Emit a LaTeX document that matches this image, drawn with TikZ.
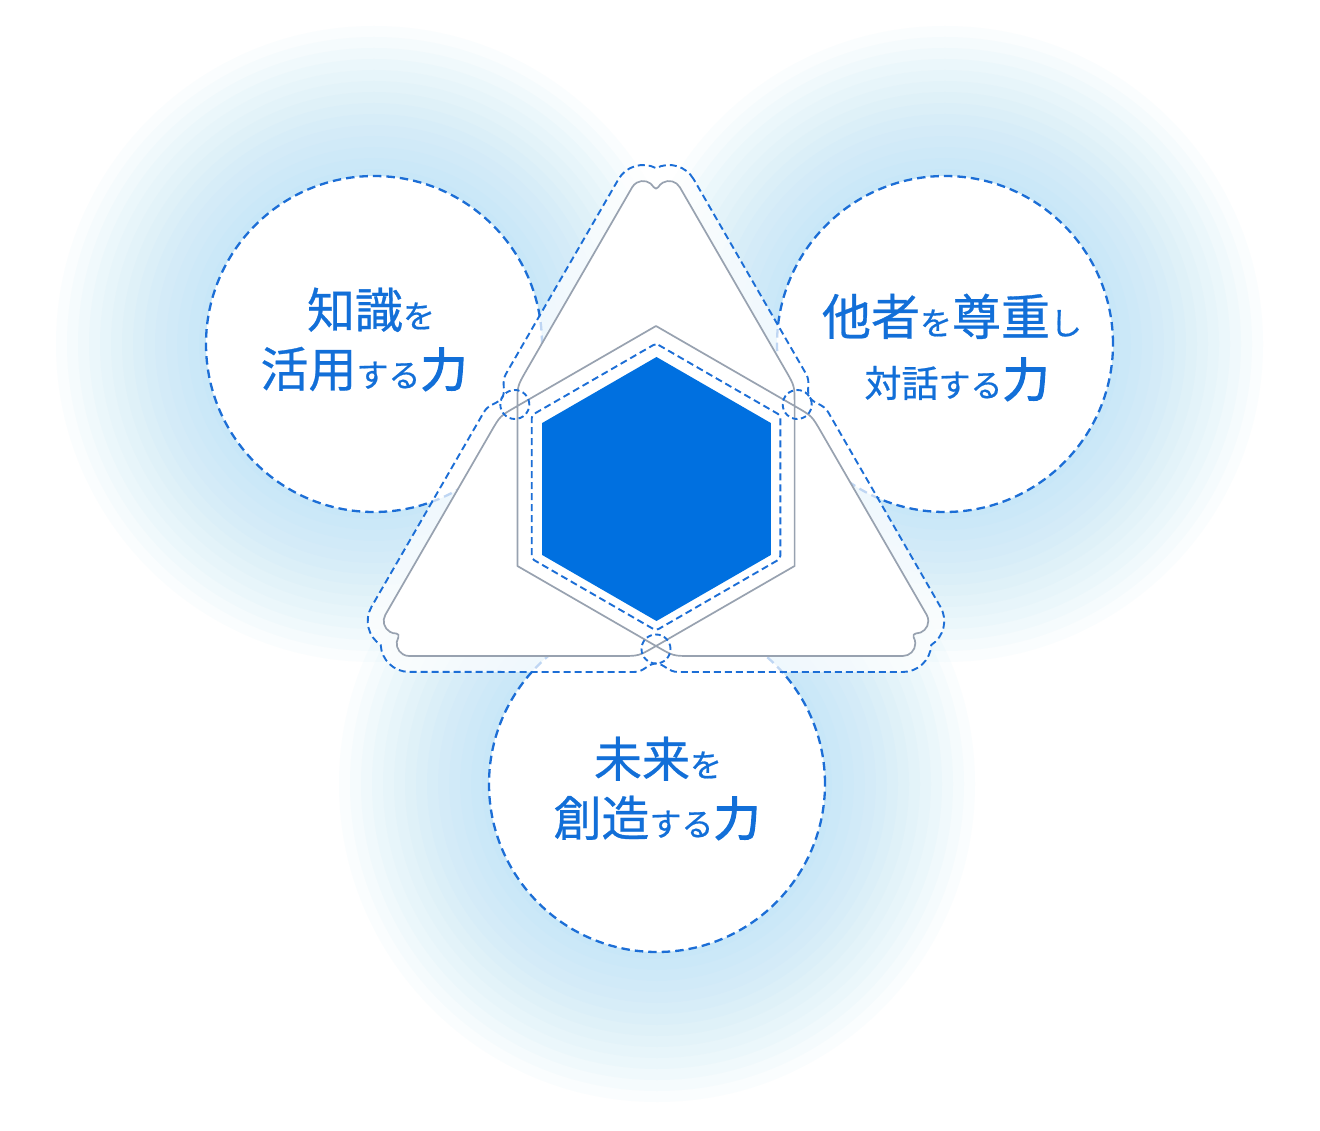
\documentclass[tikz,border=0pt]{standalone}
\usepackage{fontspec}
\newfontfamily\jpm{Noto Sans CJK JP}[FakeBold=0.6]
\newfontfamily\jpb{Noto Sans CJK JP}[FakeBold=2.4]
\definecolor{blueline}{HTML}{1C6ED6}
\definecolor{hexblue}{HTML}{0070E0}
\definecolor{txtblue}{HTML}{126FD8}
\definecolor{grayline}{HTML}{98A2B0}
\definecolor{glowc}{RGB}{160,216,248}
\newcommand\bigk[1]{{\fontsize{48}{48}\selectfont #1}}
\newcommand\bigkk[1]{{\fontsize{49}{49}\selectfont #1}}
\newcommand\midk[1]{{\fontsize{37}{37}\selectfont #1}}
\newcommand\smallk[1]{{\fontsize{32}{32}\selectfont #1}}
\newcommand\boldk[1]{{\jpb\fontsize{47}{47}\selectfont #1}}
\newcommand\graypath{(679.83,187.25) arc[start angle=330,end angle=210,radius=12.5] -- (656,188.6) -- (653.83,187.25) arc[start angle=330,end angle=210,radius=12.5] -- (526.4,370.41) .. controls (517.4,386) .. (517.4,404) -- (517.4,566) -- (657.71,647) .. controls (673.3,656) .. (691.3,656) -- (902.8,656) arc[start angle=90,end angle=-30,radius=12.5] -- (913.6,634.7) -- (915.8,633.5) arc[start angle=90,end angle=-30,radius=12.5] -- (820.9,431.59) .. controls (811.9,416) .. (796.31,407) -- (656,326) -- (515.69,407) .. controls (500.1,416) .. (491.1,431.59) -- (385.37,614.75) arc[start angle=210,end angle=90,radius=12.5] -- (398.4,634.7) -- (398.37,637.25) arc[start angle=210,end angle=90,radius=12.5] -- (620.7,656) .. controls (638.7,656) .. (654.29,647) -- (794.6,566) -- (794.6,404) .. controls (794.6,386) .. (785.6,370.41) -- cycle}
\newcommand\outerpath{(693.68,179.25) arc[start angle=330,end angle=243,radius=28.5] arc[start angle=297,end angle=210,radius=28.5] -- (505.9,373.95) .. controls (500.9,382.6) and (506.3,390.3) .. (502.3,397.25) .. controls (498.3,404.2) and (488.9,403.4) .. (483.9,412.05) -- (371.52,606.75) arc[start angle=210,end angle=123,radius=28.5] arc[start angle=177,end angle=90,radius=28.5] -- (634,672) .. controls (644,672) and (648,663.5) .. (656,663.5) .. controls (664,663.5) and (668,672) .. (678,672) -- (902.8,672) arc[start angle=90,end angle=3,radius=28.5] arc[start angle=57,end angle=-30,radius=28.5] -- (828.1,412.05) .. controls (823.1,403.4) and (813.7,404.2) .. (809.7,397.25) .. controls (805.7,390.3) and (811.1,382.6) .. (806.1,373.95) -- cycle}
\begin{document}
\begin{tikzpicture}[x=1pt,y=-1pt,
  bigc/.style={circle, draw=blueline, line width=2.3pt, dash pattern=on 8.5pt off 5pt, fill=white, minimum size=336pt, inner sep=0pt},
  junc/.style={circle, draw=blueline, line width=1.9pt, dash pattern=on 5.5pt off 3.5pt, minimum size=29pt, inner sep=0pt},
  dashline/.style={draw=blueline, line width=1.9pt, dash pattern=on 7pt off 4pt},
  grayl/.style={draw=grayline, line width=1.7pt, line join=round},
  txt/.style={anchor=base, text=txtblue, inner sep=0pt, font=\jpm}]
\fill[white] (0,0) rectangle (1320,1131);
\useasboundingbox (0,0) rectangle (1320,1131);
% glow
\foreach \cx/\cy in {374/344, 945/344, 657/784}{
  \foreach \k in {1,...,14}{
    \fill[glowc, fill opacity=0.05] (\cx,\cy) circle[radius=164+11*\k];
  }
}
% big circles
\node[bigc] (cL) at (374,344) {};
\node[bigc] (cR) at (945,344) {};
\node[bigc] (cB) at (657,784) {};
% triangle band and body
\fill[white, fill opacity=0.72] \outerpath;
\fill[white] \graypath;
\path[dashline] \outerpath;
\path[grayl] \graypath;
% inner dashed hexagon
\path[dashline, rounded corners=3pt] (656,343.5) -- (780.3,415.25) -- (780.3,558.75) -- (656,630.5) -- (531.7,558.75) -- (531.7,415.25) -- cycle;
% junction circles
\node[junc] (jUL) at (514.8,404.5) {};
\node[junc] (jUR) at (797.2,404.5) {};
\node[junc] (jB) at (656,649) {};
% filled hexagon
\fill[hexblue] (656.5,357) -- (770.8,423) -- (770.8,555) -- (656.5,621) -- (542.2,555) -- (542.2,423) -- cycle;
% texts
\node[txt] (tL1) at (371,328) {\bigk{知識}\smallk{を}};
\node[txt] (tL2) at (364,387) {\bigk{活用}\smallk{する}\boldk{力}};
\node[txt] (tR1) at (952,335) {\bigkk{他者}\smallk{を}\bigkk{尊重}\smallk{し}};
\node[txt] (tR2) at (957,397) {\midk{対話}\smallk{する}\boldk{力}};
\node[txt] (tB1) at (658,777) {\bigk{未来}\smallk{を}};
\node[txt] (tB2) at (657,836) {\bigk{創造}\smallk{する}\boldk{力}};
\end{tikzpicture}
\end{document}
